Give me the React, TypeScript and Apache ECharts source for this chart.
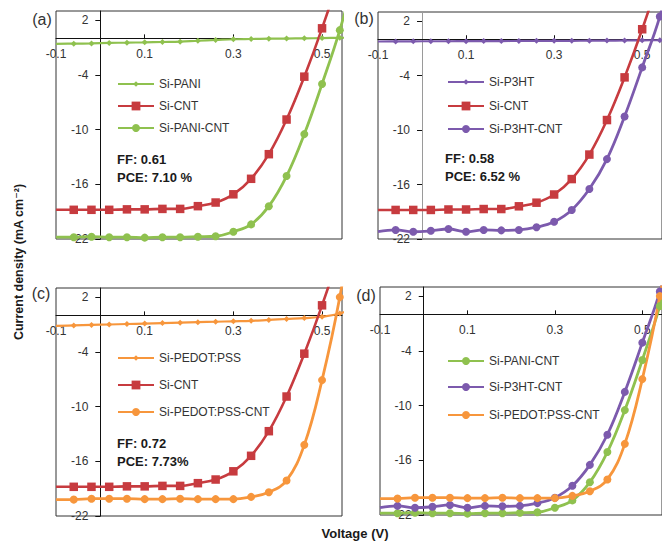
import React, { useEffect, useRef } from 'react';
import * as echarts from 'echarts';

// ---- data ----
const voltage = [-0.1, -0.06, -0.02, 0.02, 0.06, 0.1, 0.14, 0.18, 0.22, 0.26, 0.3, 0.34, 0.38, 0.42, 0.46, 0.5, 0.54, 0.58];
const siCNT = [-18.8, -18.8, -18.8, -18.8, -18.75, -18.75, -18.7, -18.7, -18.4, -18.0, -17.1, -15.4, -12.7, -8.9, -4.2, 1.1, 7.0, 14];
const siPANI = [-0.6, -0.58, -0.55, -0.5, -0.47, -0.44, -0.4, -0.36, -0.26, -0.18, -0.1, -0.07, -0.04, -0.02, 0, 0.03, 0.06, 0.1];
const siPANICNT = [-21.8, -21.8, -21.75, -21.8, -21.8, -21.85, -21.8, -21.8, -21.75, -21.7, -21.2, -20.4, -18.4, -15.1, -10.5, -5.0, 0.9, 8];
const siP3HT = [-0.25, -0.24, -0.23, -0.22, -0.22, -0.21, -0.2, -0.2, -0.19, -0.18, -0.18, -0.17, -0.16, -0.15, -0.14, -0.12, -0.1, -0.05];
const siP3HTCNT = [-21.2, -21.0, -21.2, -21.1, -20.9, -21.2, -21.0, -21.05, -21.0, -20.7, -20.1, -18.8, -16.5, -13.2, -8.5, -3.1, 2.5, 10];
const siPEDOT = [-1.15, -1.1, -1.05, -1.0, -0.95, -0.9, -0.85, -0.8, -0.75, -0.7, -0.65, -0.6, -0.5, -0.4, -0.3, -0.15, 0.2, 1];
const siPEDOTCNT = [-20.2, -20.2, -20.1, -20.1, -20.1, -20.15, -20.15, -20.1, -20.15, -20.15, -20.15, -19.9, -19.4, -18.1, -14.2, -7.1, 2.0, 14];

const xLabelValues = [-0.1, 0.1, 0.3, 0.5];
const xTickValues = [0.1, 0.3, 0.5];
const yTickValues = [-22, -16, -10, -4, 2];

const seriesValues: Record<string, number[]> = {
  'Si-PANI': siPANI,
  'Si-CNT': siCNT,
  'Si-PANI-CNT': siPANICNT,
  'Si-P3HT': siP3HT,
  'Si-P3HT-CNT': siP3HTCNT,
  'Si-PEDOT:PSS': siPEDOT,
  'Si-PEDOT:PSS-CNT': siPEDOTCNT,
};

const panelSeries = [
  ['Si-PANI', 'Si-CNT', 'Si-PANI-CNT'],
  ['Si-P3HT', 'Si-CNT', 'Si-P3HT-CNT'],
  ['Si-PEDOT:PSS', 'Si-CNT', 'Si-PEDOT:PSS-CNT'],
  ['Si-PANI-CNT', 'Si-P3HT-CNT', 'Si-PEDOT:PSS-CNT'],
];
const panelLetters = ['(a)', '(b)', '(c)', '(d)'];
const ffTexts = ['FF: 0.61', 'FF: 0.58', 'FF: 0.72', ''];
const pceTexts = ['PCE: 7.10 %', 'PCE: 6.52 %', 'PCE: 7.73%', ''];

// ---- styles / layout ----
const GREEN = '#8FC14F';
const RED = '#C73B3F';
const PURPLE = '#7C5AAD';
const ORANGE = '#F7963C';

const X_MIN = -0.1;
const X_MAX = 0.545;
const Y_MIN = -22;
const Y_MAX = 3;

const seriesStyle: Record<string, { color: string; symbol: string; size: number; width: number; legendH: number }> = {
  'Si-PANI': { color: GREEN, symbol: 'diamond', size: 6, width: 2.2, legendH: 7 },
  'Si-CNT': { color: RED, symbol: 'rect', size: 8.5, width: 2.6, legendH: 11 },
  'Si-PANI-CNT': { color: GREEN, symbol: 'circle', size: 8, width: 2.8, legendH: 10 },
  'Si-P3HT': { color: PURPLE, symbol: 'diamond', size: 6, width: 2.2, legendH: 7 },
  'Si-P3HT-CNT': { color: PURPLE, symbol: 'circle', size: 8, width: 2.8, legendH: 10 },
  'Si-PEDOT:PSS': { color: ORANGE, symbol: 'diamond', size: 6, width: 2.2, legendH: 7 },
  'Si-PEDOT:PSS-CNT': { color: ORANGE, symbol: 'circle', size: 8, width: 2.8, legendH: 10 },
};

const grids = [
  { left: 56, top: 11, width: 286, height: 228 },
  { left: 378, top: 12, width: 284, height: 227 },
  { left: 56, top: 288, width: 286, height: 228 },
  { left: 380, top: 287, width: 282, height: 228 },
];
const legendLeft = [117, 447, 117, 447];
const legendCenters = [
  [84, 106, 128],
  [82, 106, 129],
  [358, 385, 412],
  [361, 387, 415],
];
const letterPos = [
  [42, 19],
  [364, 18.5],
  [41, 293.5],
  [366, 295],
];
const ffPos = [
  [117, 159, 177],
  [445, 158, 176],
  [117, 443, 461],
];

const FONT = '"Liberation Sans", Arial, sans-serif';
const TXT = '#333333';

function buildOption() {
  const grid = grids.map((g) => ({
    ...g,
    show: true,
    borderColor: '#333333',
    borderWidth: 1,
    backgroundColor: 'transparent',
    containLabel: false,
    outerBoundsMode: 'none',
  }));

  // axes cross at zero: shift the axes into the plot with offsets
  const xAxis = grids.map((g, i) => ({
    gridIndex: i,
    type: 'value',
    position: 'bottom',
    min: X_MIN,
    max: X_MAX,
    offset: -((0 - Y_MIN) / (Y_MAX - Y_MIN)) * g.height,
    axisLine: { show: true, onZero: false, lineStyle: { color: '#111', width: 1 } },
    axisTick: { show: true, inside: true, length: 4, customValues: xTickValues, lineStyle: { color: '#111' } },
    axisLabel: {
      customValues: xLabelValues,
      margin: 10,
      fontSize: 12,
      fontFamily: FONT,
      color: TXT,
      formatter: (v: number) => v.toFixed(1),
    },
    splitLine: { show: false },
  }));

  const yAxis = grids.map((g, i) => ({
    gridIndex: i,
    type: 'value',
    position: 'left',
    min: Y_MIN,
    max: Y_MAX,
    offset: -((0 - X_MIN) / (X_MAX - X_MIN)) * g.width,
    axisLine: { show: true, onZero: false, lineStyle: { color: i === 1 ? '#9a9a9a' : '#111', width: 1 } },
    axisTick: { show: true, inside: false, length: 5, customValues: yTickValues, lineStyle: { color: '#111' } },
    axisLabel: {
      customValues: yTickValues,
      margin: 12,
      fontSize: 12,
      fontFamily: FONT,
      color: TXT,
    },
    splitLine: { show: false },
  }));

  const series: any[] = [];
  panelSeries.forEach((names, pi) => {
    names.forEach((name) => {
      const st = seriesStyle[name];
      const ys = seriesValues[name];
      series.push({
        type: 'line',
        name,
        xAxisIndex: pi,
        yAxisIndex: pi,
        smooth: 0.4,
        symbol: st.symbol,
        symbolSize: st.size,
        showAllSymbol: true,
        clip: true,
        lineStyle: { color: st.color, width: st.width },
        itemStyle: { color: st.color },
        emphasis: { disabled: true },
        data: voltage.map((v, k) => (k === 0 ? { value: [v, ys[k]], symbol: 'none' } : [v, ys[k]])),
      });
    });
  });

  const legend: any[] = [];
  panelSeries.forEach((names, pi) => {
    names.forEach((name, k) => {
      const h = seriesStyle[name].legendH;
      legend.push({
        data: [name],
        orient: 'vertical',
        left: legendLeft[pi],
        top: legendCenters[pi][k] - Math.max(h, 12) / 2,
        padding: 0,
        itemWidth: 36,
        itemHeight: h,
        selectedMode: false,
        textStyle: { fontSize: 12, fontFamily: FONT, color: TXT },
      });
    });
  });

  const graphic: any[] = [];
  panelLetters.forEach((t, i) => {
    graphic.push({
      type: 'text',
      x: letterPos[i][0],
      y: letterPos[i][1],
      style: { text: t, fontSize: 16, fontFamily: FONT, fill: '#333', align: 'center', verticalAlign: 'middle' },
    });
  });
  ffPos.forEach((p, i) => {
    graphic.push({
      type: 'text',
      x: p[0],
      y: p[1],
      style: { text: ffTexts[i], fontSize: 13, fontWeight: 'bold', fontFamily: FONT, fill: '#1a1a1a', align: 'left', verticalAlign: 'middle' },
    });
    graphic.push({
      type: 'text',
      x: p[0],
      y: p[2],
      style: { text: pceTexts[i], fontSize: 13, fontWeight: 'bold', fontFamily: FONT, fill: '#1a1a1a', align: 'left', verticalAlign: 'middle' },
    });
  });
  graphic.push({
    type: 'text',
    x: 18.5,
    y: 262,
    rotation: Math.PI / 2,
    style: {
      text: 'Current density (mA cm⁻²)',
      fontSize: 12.5,
      fontWeight: 'bold',
      fontFamily: '"Liberation Sans", "DejaVu Sans", Arial, sans-serif',
      fill: '#1a1a1a',
      align: 'center',
      verticalAlign: 'middle',
    },
  });
  graphic.push({
    type: 'text',
    x: 355,
    y: 533,
    style: {
      text: 'Voltage (V)',
      fontSize: 13,
      fontWeight: 'bold',
      fontFamily: FONT,
      fill: '#1a1a1a',
      align: 'center',
      verticalAlign: 'middle',
    },
  });

  return {
    animation: false,
    backgroundColor: '#ffffff',
    grid,
    xAxis,
    yAxis,
    legend,
    series,
    graphic,
    tooltip: { show: false },
  };
}

export default function App() {
  const ref = useRef<HTMLDivElement>(null);
  useEffect(() => {
    if (!ref.current) return;
    const chart = echarts.init(ref.current, null, { renderer: 'svg' });
    chart.setOption(buildOption() as any);
    return () => chart.dispose();
  }, []);
  return (
    <div
      ref={ref}
      style={{ position: 'absolute', left: 0, top: 0, width: 662, height: 542, overflow: 'hidden', background: '#fff' }}
    />
  );
}
